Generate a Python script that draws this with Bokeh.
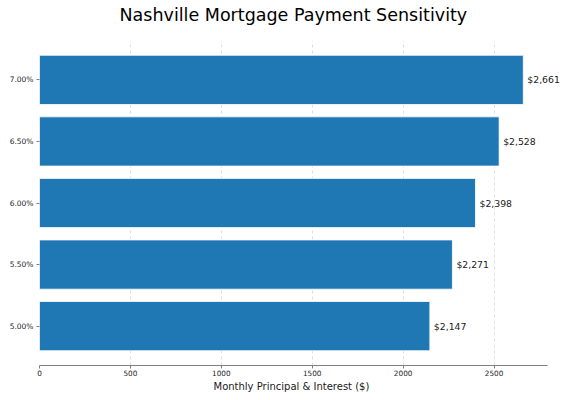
from bokeh.plotting import figure
from bokeh.models import Range1d, FactorRange, ColumnDataSource, FixedTicker, LabelSet, Title
from bokeh.core.properties import value
from bokeh.embed import file_html
from bokeh.resources import INLINE

# Payment sensitivity by interest rate
rates = ["5.00%", "5.50%", "6.00%", "6.50%", "7.00%"]
payments = [2147, 2271, 2398, 2528, 2661]
labels = ["$2,147", "$2,271", "$2,398", "$2,528", "$2,661"]
x_ticks = [0, 500, 1000, 1500, 2000, 2500]

FONT = "DejaVu Sans"

# axis ends 5% past the largest bar; the frame runs on to the canvas edge
# so that the value labels are not clipped
x_end = max(payments) * 1.05
x_view = x_end * 532 / 508

source = ColumnDataSource(data=dict(rate=rates, payment=payments, label=labels))

p = figure(
    width=571,
    height=400,
    y_range=FactorRange(factors=rates, range_padding=0.14, range_padding_units="absolute"),
    x_range=Range1d(0, x_view),
    output_backend="svg",
    toolbar_location=None,
    min_border_left=39,
    min_border_right=0,
    min_border_top=0,
    min_border_bottom=35,
)

p.title.text = "Nashville Mortgage Payment Sensitivity"
p.title.align = "left"
p.title.offset = 80
p.title.vertical_align = "top"
p.title.text_font = FONT
p.title.text_font_size = "17.5px"
p.title.text_font_style = "normal"
p.title.text_color = "#000000"
p.title.standoff = 8

# small gap between the title and the plot frame
p.add_layout(Title(text=" ", text_font_size="1px", standoff=7), "above")

p.hbar(y="rate", right="payment", left=0, height=0.8, source=source,
       fill_color="#1f77b4", line_color="#ffffff", line_width=0.8)

values = LabelSet(x="payment", y="rate", text="label", source=source, x_offset=4,
                  text_baseline="middle", text_align="left", text_font=value(FONT),
                  text_font_size="9.3px", text_color="#1a1a1a")
p.add_layout(values)

p.outline_line_color = None
p.ygrid.grid_line_color = None
p.xgrid.grid_line_color = "#b0b0b0"
p.xgrid.grid_line_alpha = 0.5
p.xgrid.grid_line_dash = "3 3"
p.xgrid.grid_line_width = 0.8

p.xaxis.ticker = FixedTicker(ticks=x_ticks)
p.xaxis.bounds = (0, x_end)
p.xaxis.axis_line_color = "#808080"
p.xaxis.major_tick_line_color = "#808080"
p.xaxis.major_tick_out = 3
p.xaxis.major_tick_in = 0
p.xaxis.minor_tick_line_color = None
p.xaxis.major_label_text_font = FONT
p.xaxis.major_label_text_font_size = "7.3px"
p.xaxis.major_label_text_color = "#262626"
p.xaxis.major_label_standoff = 1

# x axis label as a below title so it can sit centred under the axis line
xlabel = Title(text="Monthly Principal & Interest ($)", align="left", offset=174,
               text_font=FONT, text_font_size="10px", text_font_style="normal",
               text_color="#1a1a1a", standoff=0)
p.add_layout(xlabel, "below")

p.yaxis.axis_line_color = None
p.yaxis.major_tick_line_color = "#808080"
p.yaxis.major_tick_out = 3
p.yaxis.major_tick_in = 0
p.yaxis.minor_tick_line_color = None
p.yaxis.major_label_text_font = FONT
p.yaxis.major_label_text_font_size = "7.5px"
p.yaxis.major_label_text_color = "#262626"
p.yaxis.major_label_standoff = 3

open("out.html", "w").write(file_html(p, INLINE))
